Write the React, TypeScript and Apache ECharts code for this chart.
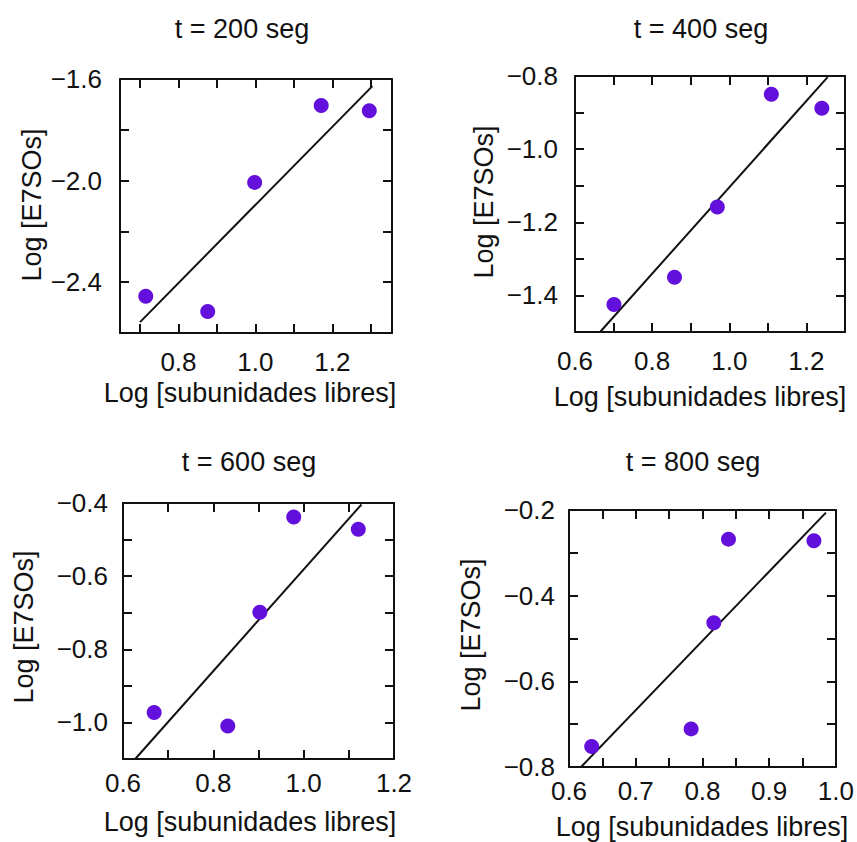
import React, { useEffect, useRef } from "react";
import * as echarts from "echarts";

// ---------- data ----------
const TITLES = ["t = 200 seg", "t = 400 seg", "t = 600 seg", "t = 800 seg"];
const X_NAME = "Log [subunidades libres]";
const Y_NAME = "Log [E7SOs]";

// t = 200 seg
const P1_X = [0.715, 0.876, 0.998, 1.171, 1.296];
const P1_Y = [-2.455, -2.515, -2.007, -1.704, -1.725];
const P1_FIT_X = [0.7, 1.304];
const P1_FIT_Y = [-2.557, -1.628];
const P1_X_RANGE = [0.648, 1.355];
const P1_Y_RANGE = [-2.6, -1.6];
const P1_X_TICKS = [0.7, 0.8, 0.9, 1.0, 1.1, 1.2, 1.3];
const P1_X_LABELS = [0.8, 1.0, 1.2];
const P1_Y_TICKS = [-2.6, -2.4, -2.2, -2.0, -1.8, -1.6];
const P1_Y_LABELS = [-2.4, -2.0, -1.6];

// t = 400 seg
const P2_X = [0.701, 0.858, 0.969, 1.109, 1.24];
const P2_Y = [-1.425, -1.35, -1.158, -0.85, -0.888];
const P2_FIT_X = [0.665, 1.255];
const P2_FIT_Y = [-1.5, -0.803];
const P2_X_RANGE = [0.6, 1.3];
const P2_Y_RANGE = [-1.5, -0.8];
const P2_X_TICKS = [0.6, 0.7, 0.8, 0.9, 1.0, 1.1, 1.2, 1.3];
const P2_X_LABELS = [0.6, 0.8, 1.0, 1.2];
const P2_Y_TICKS = [-1.5, -1.4, -1.3, -1.2, -1.1, -1.0, -0.9, -0.8];
const P2_Y_LABELS = [-1.4, -1.2, -1.0, -0.8];

// t = 600 seg
const P3_X = [0.669, 0.832, 0.903, 0.978, 1.121];
const P3_Y = [-0.973, -1.01, -0.699, -0.438, -0.472];
const P3_FIT_X = [0.627, 1.128];
const P3_FIT_Y = [-1.1, -0.404];
const P3_X_RANGE = [0.6, 1.2];
const P3_Y_RANGE = [-1.1, -0.4];
const P3_X_TICKS = [0.6, 0.7, 0.8, 0.9, 1.0, 1.1, 1.2];
const P3_X_LABELS = [0.6, 0.8, 1.0, 1.2];
const P3_Y_TICKS = [-1.1, -1.0, -0.9, -0.8, -0.7, -0.6, -0.5, -0.4];
const P3_Y_LABELS = [-1.0, -0.8, -0.6, -0.4];

// t = 800 seg
const P4_X = [0.634, 0.783, 0.817, 0.839, 0.967];
const P4_Y = [-0.752, -0.711, -0.463, -0.268, -0.272];
const P4_FIT_X = [0.618, 0.985];
const P4_FIT_Y = [-0.8, -0.206];
const P4_X_RANGE = [0.6, 1.0];
const P4_Y_RANGE = [-0.8, -0.2];
const P4_X_TICKS = [0.6, 0.65, 0.7, 0.75, 0.8, 0.85, 0.9, 0.95, 1.0];
const P4_X_LABELS = [0.6, 0.7, 0.8, 0.9, 1.0];
const P4_Y_TICKS = [-0.8, -0.7, -0.6, -0.5, -0.4, -0.3, -0.2];
const P4_Y_LABELS = [-0.8, -0.6, -0.4, -0.2];

// ---------- layout / style ----------
const FONT = '"Liberation Sans", Arial, Helvetica, sans-serif';
const FS_TEXT = 27;
const FS_TICK = 26;
const INK = "#111111";
const DOT = "#6410DC";

const LAYOUT = [
  { grid: { left: 120, top: 79, width: 272, height: 254 }, title: [242, 29], xName: [250, 393], yName: [32, 205], yMargin: 18, xMargin: 16 },
  { grid: { left: 575, top: 76, width: 270, height: 256 }, title: [701, 29], xName: [700, 397], yName: [484, 202], yMargin: 17, xMargin: 16 },
  { grid: { left: 123, top: 503, width: 271, height: 256 }, title: [249, 462], xName: [250, 822], yName: [24, 627], yMargin: 15, xMargin: 11 },
  { grid: { left: 569, top: 510, width: 271, height: 257 }, title: [693, 462], xName: [702, 827], yName: [471, 635], yMargin: 14, xMargin: 11 },
];

const PANELS = [
  { xs: P1_X, ys: P1_Y, fx: P1_FIT_X, fy: P1_FIT_Y, xr: P1_X_RANGE, yr: P1_Y_RANGE, xt: P1_X_TICKS, xl: P1_X_LABELS, yt: P1_Y_TICKS, yl: P1_Y_LABELS },
  { xs: P2_X, ys: P2_Y, fx: P2_FIT_X, fy: P2_FIT_Y, xr: P2_X_RANGE, yr: P2_Y_RANGE, xt: P2_X_TICKS, xl: P2_X_LABELS, yt: P2_Y_TICKS, yl: P2_Y_LABELS },
  { xs: P3_X, ys: P3_Y, fx: P3_FIT_X, fy: P3_FIT_Y, xr: P3_X_RANGE, yr: P3_Y_RANGE, xt: P3_X_TICKS, xl: P3_X_LABELS, yt: P3_Y_TICKS, yl: P3_Y_LABELS },
  { xs: P4_X, ys: P4_Y, fx: P4_FIT_X, fy: P4_FIT_Y, xr: P4_X_RANGE, yr: P4_Y_RANGE, xt: P4_X_TICKS, xl: P4_X_LABELS, yt: P4_Y_TICKS, yl: P4_Y_LABELS },
];

const fmt = (v: number) => v.toFixed(1).replace("-", "\u2212");

function axis(i: number, pos: string, range: number[], ticks: number[], labels: number[] | null, margin: number) {
  return {
    type: "value",
    gridIndex: i,
    position: pos,
    min: range[0],
    max: range[1],
    axisLine: { show: true, onZero: false, lineStyle: { color: INK, width: 2 } },
    axisTick: { show: true, inside: true, length: 9, customValues: ticks, lineStyle: { color: INK, width: 2 } },
    axisLabel: labels
      ? {
          show: true,
          customValues: labels,
          formatter: fmt,
          margin,
          fontSize: FS_TICK,
          fontFamily: FONT,
          color: INK,
        }
      : { show: false },
    splitLine: { show: false },
    minorTick: { show: false },
  };
}

function textEl(text: string, x: number, y: number, rotate = false) {
  return {
    type: "text",
    x,
    y,
    rotation: rotate ? Math.PI / 2 : 0,
    silent: true,
    style: {
      text,
      fill: INK,
      fontSize: FS_TEXT,
      fontFamily: FONT,
      align: "center",
      verticalAlign: "middle",
      textAlign: "center",
      textVerticalAlign: "middle",
    },
  };
}

export default function App() {
  const ref = useRef<HTMLDivElement>(null);
  useEffect(() => {
    document.body.style.margin = "0";
    if (!ref.current) return;
    const chart = echarts.init(ref.current, undefined, { renderer: "svg" });
    const xAxis: any[] = [];
    const yAxis: any[] = [];
    const series: any[] = [];
    const graphic: any[] = [];
    PANELS.forEach((p, i) => {
      const L = LAYOUT[i];
      xAxis.push(axis(i, "bottom", p.xr, p.xt, p.xl, L.xMargin));
      xAxis.push(axis(i, "top", p.xr, p.xt, null, 0));
      yAxis.push(axis(i, "left", p.yr, p.yt, p.yl, L.yMargin));
      yAxis.push(axis(i, "right", p.yr, p.yt, null, 0));
      series.push({
        type: "line",
        xAxisIndex: 2 * i,
        yAxisIndex: 2 * i,
        data: p.fx.map((x, k) => [x, p.fy[k]]),
        symbol: "none",
        silent: true,
        lineStyle: { color: INK, width: 2 },
        z: 2,
      });
      series.push({
        type: "scatter",
        xAxisIndex: 2 * i,
        yAxisIndex: 2 * i,
        data: p.xs.map((x, k) => [x, p.ys[k]]),
        symbol: "circle",
        symbolSize: 15,
        itemStyle: { color: DOT, opacity: 1 },
        z: 3,
      });
      graphic.push(textEl(TITLES[i], L.title[0], L.title[1]));
      graphic.push(textEl(X_NAME, L.xName[0], L.xName[1]));
      graphic.push(textEl(Y_NAME, L.yName[0], L.yName[1], true));
    });
    chart.setOption({
      animation: false,
      backgroundColor: "#ffffff",
      grid: LAYOUT.map((l) => ({ ...l.grid, containLabel: false })),
      xAxis,
      yAxis,
      series,
      graphic,
    });
    return () => chart.dispose();
  }, []);
  return <div ref={ref} style={{ width: 857, height: 842 }} />;
}
